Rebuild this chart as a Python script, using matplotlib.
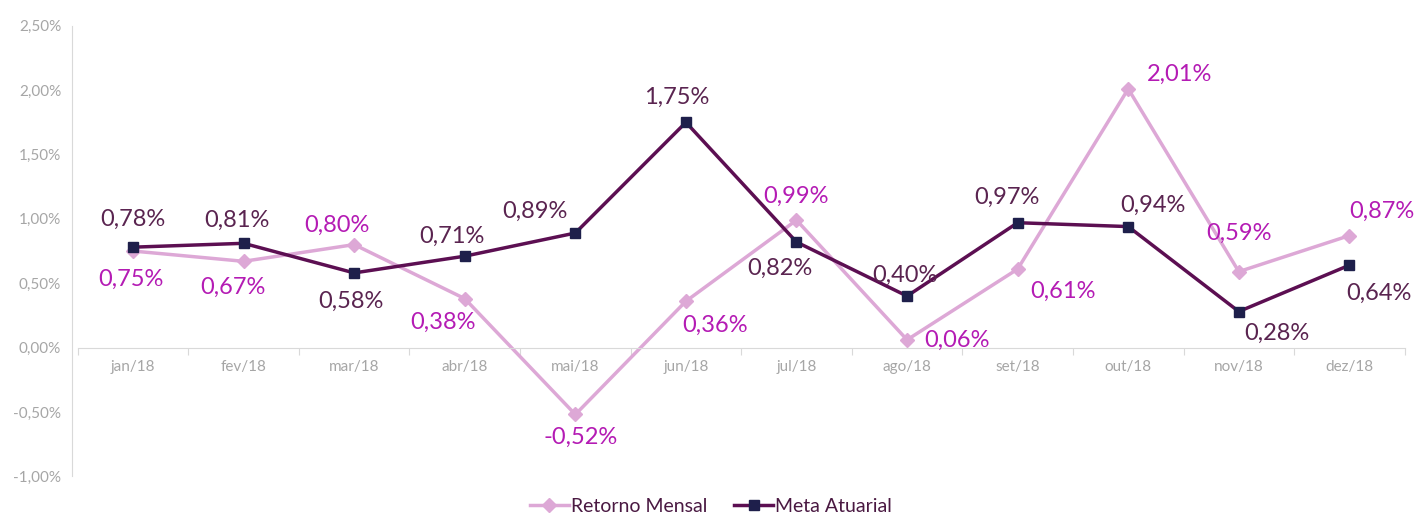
import matplotlib.pyplot as plt
from matplotlib.ticker import FuncFormatter

plt.rcParams['font.family'] = ['Lato', 'DejaVu Sans']

meses = ['jan/18', 'fev/18', 'mar/18', 'abr/18', 'mai/18', 'jun/18',
         'jul/18', 'ago/18', 'set/18', 'out/18', 'nov/18', 'dez/18']
retorno = [0.75, 0.67, 0.80, 0.38, -0.52, 0.36, 0.99, 0.06, 0.61, 2.01, 0.59, 0.87]
meta = [0.78, 0.81, 0.58, 0.71, 0.89, 1.75, 0.82, 0.40, 0.97, 0.94, 0.28, 0.64]

# label offsets in pixels (dx, dy)
off_ret = [(-2, -28), (-11, -26), (-17, 19), (-22, -24), (5, -23), (29, -24),
           (0, 24), (50, -1), (45, -22), (51, 15), (0, 38), (32, 24)]
off_meta = [(0, 28), (-7, 23), (-3, -28), (-13, 20), (-40, 22), (-9, 25),
            (-17, -26), (-2, 21), (-11, 25), (25, 21), (38, -22), (30, -28)]

fmt = lambda v: f'{v:.2f}%'.replace('.', ',')

fig = plt.figure(figsize=(14.16, 5.16), dpi=100)
ax = fig.add_axes([0.051, 0.077, 0.941, 0.873])

x = range(len(meses))
ax.plot(x, retorno, color='#DDA8D6', lw=2.5, marker='D', ms=7, label='Retorno Mensal', zorder=2)
ax.plot(x, meta, color='#5C0F52', lw=2.5, marker='s', ms=7, mfc='#1E1F4B', mec='#1E1F4B',
        label='Meta Atuarial', zorder=3)

for i in x:
    ax.annotate(fmt(retorno[i]), (i, retorno[i]), xytext=off_ret[i], textcoords='offset pixels',
                ha='center', va='center', fontsize=17, color='#B41BB4')
    ax.annotate(fmt(meta[i]), (i, meta[i]), xytext=off_meta[i], textcoords='offset pixels',
                ha='center', va='center', fontsize=17, color='#5A2450')

ax.set_xlim(-0.55, 11.5)
ax.set_ylim(-1.0, 2.5)
ax.set_yticks([-1.0, -0.5, 0, 0.5, 1.0, 1.5, 2.0, 2.5])
ax.yaxis.set_major_formatter(FuncFormatter(lambda v, p: fmt(v)))

for s in ['top', 'right']:
    ax.spines[s].set_visible(False)
ax.spines['left'].set_color('#D9D9D9')
ax.spines['bottom'].set_position(('data', 0))
ax.spines['bottom'].set_bounds(-0.5, 11.5)
ax.spines['bottom'].set_color('#D9D9D9')
ax.tick_params(axis='y', length=0, labelsize=11, labelcolor='#A6A6A6', pad=8)

ax.set_xticks([i + 0.5 for i in range(-1, 12)])
ax.set_xticklabels([])
ax.tick_params(axis='x', length=5, color='#D9D9D9', direction='out')
for i, m in enumerate(meses):
    ax.text(i, -0.15, m, ha='center', va='center', fontsize=11, color='#A6A6A6')

fig.legend(*ax.get_legend_handles_labels(), loc='center', bbox_to_anchor=(0.502, 0.018),
           ncol=2, frameon=False, fontsize=14, labelcolor='#4A1942', handlelength=2.0,
           columnspacing=1.4, handletextpad=0.1, borderpad=0)

fig.savefig('out.png', dpi=100)
